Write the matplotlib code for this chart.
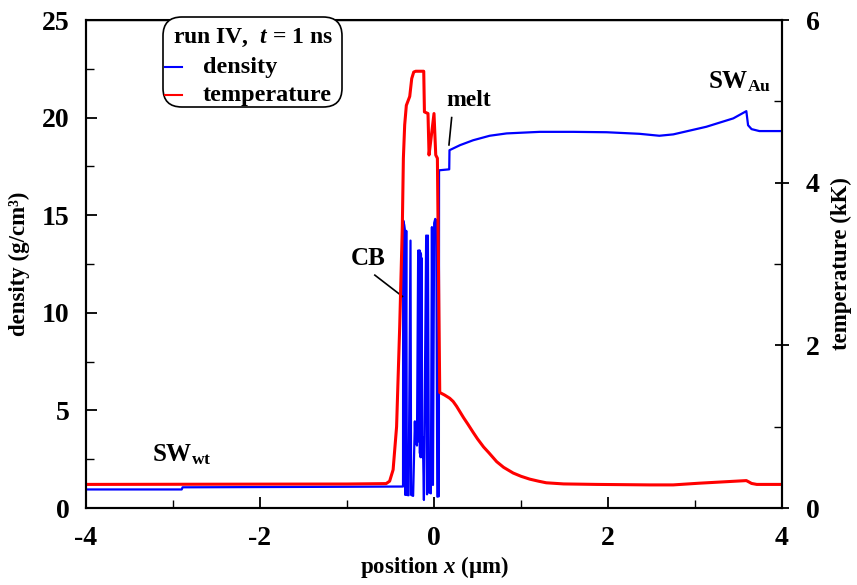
import matplotlib
matplotlib.use("Agg")
import matplotlib.pyplot as plt
from matplotlib.patches import FancyBboxPatch
from matplotlib.lines import Line2D
from matplotlib.ticker import MultipleLocator

plt.rcParams['font.family'] = ['Liberation Serif', 'DejaVu Serif']
plt.rcParams['font.weight'] = 'bold'
plt.rcParams['axes.unicode_minus'] = False
plt.rcParams['mathtext.fontset'] = 'custom'
plt.rcParams['mathtext.rm'] = 'Liberation Serif:bold'
plt.rcParams['mathtext.bf'] = 'Liberation Serif:bold'
plt.rcParams['mathtext.it'] = 'Liberation Serif:bold:italic'

# ---- data ----
dens_x = [-4.0, -2.90, -2.89, -1.5, -0.356,
          -0.354, -0.342, -0.336, -0.331, -0.319, -0.312, -0.292, -0.270, -0.263,
          -0.240, -0.220, -0.213, -0.205, -0.196, -0.182, -0.178, -0.174, -0.170,
          -0.166, -0.162, -0.158, -0.154, -0.150, -0.146, -0.142, -0.136, -0.128,
          -0.116, -0.090, -0.080, -0.070, -0.058, -0.036, -0.024, -0.012, 0.002,
          0.014, 0.026, 0.038, 0.056, 0.058, 0.175, 0.178, 0.30, 0.45, 0.64,
          0.835, 1.215, 1.60, 1.985, 2.36, 2.59, 2.75, 3.13, 3.44, 3.59, 3.61,
          3.65, 3.74, 4.0]
dens_y = [0.95, 0.95, 1.06, 1.08, 1.10,
          14.73, 14.5, 14.3, 0.67, 14.2, 0.67, 0.65, 13.7, 0.67,
          0.62, 4.44, 3.3, 4.0, 3.2, 13.19, 3.6, 13.1, 3.4,
          13.2, 2.8, 13.1, 2.6, 13.0, 2.9, 12.8, 2.6, 3.6,
          0.41, 13.96, 0.70, 13.96, 0.80, 0.75, 14.39, 1.18, 14.6,
          14.81, 14.75, 0.58, 0.60, 17.30, 17.35, 18.33, 18.59, 18.84, 19.07,
          19.19, 19.27, 19.27, 19.25, 19.17, 19.07, 19.14, 19.53, 19.96, 20.33, 19.61,
          19.41, 19.31, 19.31]

temp_x = [-4.0, -1.0, -0.55, -0.51, -0.47, -0.43, -0.394, -0.364, -0.352, -0.337,
          -0.318, -0.279, -0.256, -0.233, -0.21, -0.118, -0.11, -0.069, -0.057,
          -0.03, 0.0, 0.02, 0.039, 0.066, 0.12, 0.18, 0.22, 0.26, 0.30, 0.34,
          0.39, 0.45, 0.50, 0.57, 0.63, 0.72, 0.80, 0.91, 1.0, 1.1, 1.2, 1.29,
          1.49, 1.87, 2.48, 2.75, 3.05, 3.59, 3.62, 3.65, 3.71, 4.0]
temp_y = [0.29, 0.295, 0.30, 0.33, 0.47, 1.0, 2.24, 3.47, 4.30, 4.71,
          4.95, 5.06, 5.28, 5.36, 5.37, 5.37, 4.87, 4.85, 4.34,
          4.58, 4.85, 4.34, 4.30, 1.42, 1.39, 1.35, 1.31, 1.25, 1.18, 1.11,
          1.03, 0.93, 0.85, 0.75, 0.68, 0.57, 0.50, 0.43, 0.39, 0.355, 0.33, 0.31,
          0.296, 0.29, 0.284, 0.284, 0.305, 0.337, 0.32, 0.302, 0.29, 0.29]

x_ticks = [-4, -2, 0, 2, 4]
dens_ticks = [0, 5, 10, 15, 20, 25]
temp_ticks = [0, 2, 4, 6]

BLUE = '#0000ff'
RED = '#ff0000'

fig = plt.figure(figsize=(8.57, 5.85), dpi=100)
W, H = 857, 585
ax = fig.add_axes([86 / W, 1 - 508 / H, (782 - 86) / W, (508 - 20) / H])
ax2 = ax.twinx()

ax.plot(dens_x, dens_y, color=BLUE, lw=1.6, zorder=3)
ax2.plot(temp_x, temp_y, color=RED, lw=2.2, zorder=2, solid_joinstyle='round')

ax.set_xlim(-4, 4)
ax.set_ylim(0, 25)
ax2.set_ylim(0, 6)

ax.set_xticks(x_ticks)
ax.xaxis.set_minor_locator(MultipleLocator(1))
ax.set_yticks(dens_ticks)
ax.yaxis.set_minor_locator(MultipleLocator(2.5))
ax2.set_yticks(temp_ticks)
ax2.yaxis.set_minor_locator(MultipleLocator(1))

for a in (ax, ax2):
    for s in a.spines.values():
        s.set_linewidth(1.5)
ax.spines['top'].set_linewidth(1.0)

ax.tick_params(axis='x', which='major', direction='in', length=8, width=1.3,
               labelsize=20, pad=13, top=False)
ax.tick_params(axis='x', which='minor', direction='in', length=5.5, width=1.0, top=False)
ax.tick_params(axis='y', which='major', direction='in', length=8, width=1.3,
               labelsize=20, pad=12)
ax.tick_params(axis='y', which='minor', direction='in', length=5.5, width=1.0)
ax2.tick_params(axis='y', which='major', direction='inout', length=10, width=1.3,
                labelsize=20, pad=12)
ax2.tick_params(axis='y', which='minor', direction='in', length=5.5, width=1.0)

for lab in ax.get_xticklabels() + ax.get_yticklabels() + ax2.get_yticklabels():
    lab.set_fontweight('bold')

ax.set_xlabel('position $x$ (µm)', fontsize=16.5, fontweight='bold', labelpad=2)
ax.set_ylabel('density (g/cm³)', fontsize=16.5, fontweight='bold', labelpad=8)
ax2.set_ylabel('temperature (kK)', fontsize=16.5, fontweight='bold', labelpad=8)

# annotations
ax.text(-0.755, 12.76, 'CB', fontsize=18, fontweight='bold',
        ha='center', va='center', zorder=5)
ax.plot([-0.68, -0.363], [11.93, 10.84], color='black', lw=1.2, zorder=5)
ax.text(0.40, 20.9, 'melt', fontsize=17, fontweight='bold',
        ha='center', va='center', zorder=5)
ax.plot([0.203, 0.172], [20.0, 18.6], color='black', lw=1.2, zorder=5)
ax.text(-2.90, 2.73, r'SW$_{\mathrm{wt}}$', fontsize=18, fontweight='bold',
        ha='center', va='center')
ax.text(3.51, 21.86, r'SW$_{\mathrm{Au}}$', fontsize=18, fontweight='bold',
        ha='center', va='center')

# legend box
bx0, by0, bx1, by1 = 163, 17, 342, 107
box = FancyBboxPatch((bx0 / W, 1 - by1 / H), (bx1 - bx0) / W, (by1 - by0) / H,
                     boxstyle='round,pad=0,rounding_size=0.022',
                     mutation_aspect=W / H, transform=fig.transFigure,
                     facecolor='white', edgecolor='black', lw=1.2, zorder=10)
fig.add_artist(box)
fig.text((bx0 + bx1) / 2 / W, 1 - 38 / H, r'run IV,  $t$ = 1 ns', fontsize=17,
         fontweight='bold', ha='center', va='center', zorder=11)
for yy, col, lab in [(67, BLUE, 'density'), (95, RED, 'temperature')]:
    fig.add_artist(Line2D([165 / W, 182 / W], [1 - yy / H, 1 - yy / H], color=col,
                          lw=1.5, transform=fig.transFigure, zorder=11))
    fig.text(203 / W, 1 - yy / H, lab, fontsize=17.5, fontweight='bold',
             ha='left', va='center', zorder=11)

fig.savefig('out.png', dpi=100)
